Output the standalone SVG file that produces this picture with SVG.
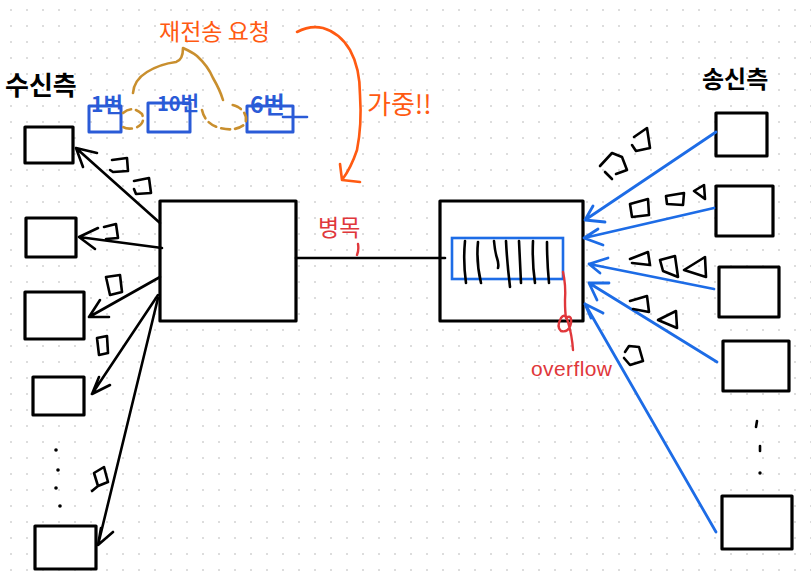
<svg xmlns="http://www.w3.org/2000/svg" width="811" height="578" viewBox="0 0 811 578">
<defs>
<pattern id="dots" x="3" y="2" width="16" height="16" patternUnits="userSpaceOnUse">
<circle cx="8" cy="8" r="1" fill="#d2d2d2"/>
</pattern>
<style>
.box{fill:#fff;stroke:#000;stroke-width:3.2;stroke-linejoin:round}
.bbox{fill:none;stroke:#2a5bd7;stroke-width:3;stroke-linejoin:round}
.blk{fill:none;stroke:#000;stroke-width:2.6;stroke-linecap:round;stroke-linejoin:round}
.blue{fill:none;stroke:#1d6ce6;stroke-width:2.8;stroke-linecap:round;stroke-linejoin:round}
.pk{fill:none;stroke:#000;stroke-width:2.6;stroke-linecap:round;stroke-linejoin:round}
.gold{fill:none;stroke:#c98f2e;stroke-width:2.6;stroke-linecap:round;stroke-linejoin:round}
.org{fill:none;stroke:#ff5a12;stroke-width:2.6;stroke-linecap:round;stroke-linejoin:round}
.red{fill:none;stroke:#e0373b;stroke-width:2.4;stroke-linecap:round;stroke-linejoin:round}
.kr{font-family:"Noto Sans CJK KR","Noto Sans",sans-serif}
.lat{font-family:"Liberation Sans",Arial,sans-serif}
</style>
</defs>
<rect width="811" height="578" fill="#fff"/>
<rect width="811" height="578" fill="url(#dots)"/>

<!-- labels -->
<text class="kr" x="5" y="95" font-size="26" font-weight="bold" fill="#000">수신측</text>
<text class="kr" x="702" y="88" font-size="24" font-weight="bold" fill="#000">송신측</text>
<text class="kr" x="159" y="40" font-size="23" fill="#ff5a12">재전송 요청</text>
<text class="kr" x="367" y="114" font-size="26" fill="#ff5a12">가중!!</text>
<text class="kr" x="318" y="236" font-size="23" fill="#e0373b">병목</text>
<text class="lat" x="451" y="235" font-size="22" fill="#000" textLength="62">buffer</text>
<text class="lat" x="531" y="376" font-size="21" fill="#e0373b" textLength="81">overflow</text>

<!-- receiver nodes -->
<g id="recv1"><rect class="box" x="25" y="127" width="48" height="36"/></g>
<g id="recv2"><rect class="box" x="26" y="218" width="50" height="39"/></g>
<g id="recv3"><rect class="box" x="25" y="292" width="59" height="47"/></g>
<g id="recv4"><rect class="box" x="33" y="377" width="51" height="38"/></g>
<g id="recv5"><rect class="box" x="35" y="526" width="61" height="43"/></g>
<g id="recv-dots" fill="#000">
<circle cx="56" cy="450" r="1.8"/><circle cx="58" cy="470" r="1.8"/><circle cx="56" cy="488" r="1.8"/><circle cx="60" cy="506" r="1.8"/>
</g>

<!-- router -->
<g id="router"><rect class="box" x="160" y="201" width="136" height="120"/></g>

<!-- buffer node -->
<g id="buffer">
<rect class="box" x="440" y="201" width="143" height="120"/>
<rect x="452" y="238" width="111" height="41" fill="none" stroke="#1d6ce6" stroke-width="2.6"/>
<path class="blk" d="M465,241 Q463,262 466,283 M478,242 Q476,262 481,283 M494,241 Q495,252 497,258 Q499,264 498,268 M506,241 Q507,262 510,287 M519,241 Q520,262 521,283 M533,241 Q532,262 535,283 M547,242 Q547,262 549,283"/>
</g>

<!-- sender nodes -->
<g id="send1"><rect class="box" x="716" y="113" width="51" height="43"/></g>
<g id="send2"><rect class="box" x="716" y="186" width="57" height="50"/></g>
<g id="send3"><rect class="box" x="719" y="267" width="60" height="50"/></g>
<g id="send4"><rect class="box" x="723" y="341" width="66" height="50"/></g>
<g id="send5"><rect class="box" x="722" y="496" width="70" height="53"/></g>
<g id="send-dots" fill="#000">
<path d="M757,421 L756,427" stroke="#000" stroke-width="2.6" stroke-linecap="round"/>
<path d="M760,446 L760,451" stroke="#000" stroke-width="2.6" stroke-linecap="round"/>
<circle cx="760" cy="473" r="1.7"/>
</g>

<!-- retransmission request packets (top) -->
<g id="pkt1">
<rect class="bbox" x="89" y="106" width="32" height="26"/>
<text class="kr" x="91" y="112" font-size="21" font-weight="bold" fill="#2a5bd7">1번</text>
</g>
<g id="pkt10">
<rect class="bbox" x="148" y="103" width="42" height="29"/>
<text class="kr" x="157" y="111" font-size="20" font-weight="bold" fill="#2a5bd7">10번</text>
</g>
<g id="pkt6">
<rect class="bbox" x="247" y="106" width="46" height="26"/>
<text class="kr" x="250" y="113" font-size="23" font-weight="bold" fill="#2a5bd7">6번</text>
<path d="M283,117 L307,117" stroke="#2a5bd7" stroke-width="2.6" stroke-linecap="round"/>
</g>

<!-- connectors -->
<g id="connectors">
<!-- router to receivers -->
<path class="blk" d="M160,223 L76,148 M97,153 L76,148 L83,167"/>
<path class="blk" d="M162,248 L79,237 M98,228 L79,237 L95,249"/>
<path class="blk" d="M160,277 L89,317 M100,300 L89,317 L109,317"/>
<path class="blk" d="M158,295 L92,394 M99,377 L92,394 L110,385"/>
<path class="blk" d="M158,298 L98,545 M101,528 L98,545 L113,532"/>
<!-- bottleneck link -->
<path class="blk" d="M296,258 L445,258"/>
<path class="red" d="M358,244 Q359,250 357,255"/>
<!-- senders to buffer -->
<path class="blue" d="M716,132 L585,220 M593,206 L585,220 L605,222"/>
<path class="blue" d="M714,208 L584,238 M598,229 L584,238 L603,245"/>
<path class="blue" d="M714,289 L589,264 M608,258 L589,264 L600,273"/>
<path class="blue" d="M717,362 L589,283 M609,283 L589,283 L597,300"/>
<path class="blue" d="M716,532 L585,304 M585,304 L603,313 M585,304 L591,318"/>
<!-- overflow -->
<path class="red" d="M563,272 Q566,285 565,300 Q565,312 566,318 Q572,314 571,323 Q569,333 561,331 Q556,327 561,318 Q565,312 568,322 Q572,335 573,350"/>
<!-- retransmission dashed links -->
<path class="gold" stroke-dasharray="9,5" d="M123,113 Q132,105 142,114 Q146,124 135,128 Q126,130 122,126"/>
<path class="gold" stroke-dasharray="9,5" d="M202,110 Q205,124 220,128 Q236,132 245,124 Q249,114 238,107 Q232,104 228,105"/>
<path class="gold" d="M133,93 Q134,80 147,72 Q160,64 176,62 Q183,60 183,48 Q192,52 197,56 Q208,66 213,78 Q220,90 223,100"/>
<!-- aggravation arrow -->
<path class="org" d="M297,32 Q310,25 323,28 Q340,33 350,50 Q360,68 360,95 Q362,125 357,150 Q351,168 342,180 M340,164 L342,180 L360,182"/>
</g>

<!-- data packets in flight -->
<g id="packets-left">
<path class="pk" d="M112,160 L127,158 L128,171 L113,172 L110,170"/>
<path class="pk" d="M134,181 L149,178 L151,193 L136,194 L134,189"/>
<path class="pk" d="M104,227 L116,224 L118,238 L106,239"/>
<path class="pk" d="M106,277 L120,275 L122,292 L110,295 Z"/>
<path class="pk" d="M97,338 L107,336 L108,353 L99,355 Z"/>
<path class="pk" d="M94,473 L104,467 L108,482 L98,486 Z M98,486 L92,491"/>
</g>
<g id="packets-right">
<path class="pk" d="M634,137 L647,128 L650,148 L636,151 L632,145"/>
<path class="pk" d="M600,166 L612,153 L622,157 L627,170 L616,174 M605,172 L612,179"/>
<path class="pk" d="M630,204 L648,199 L649,215 L632,217 Z"/>
<path class="pk" d="M666,196 L684,193 L683,205 L667,204 Z"/>
<path class="pk" d="M694,191 L704,185 L705,199 Z"/>
<path class="pk" d="M630,259 L648,252 L650,265 L632,263"/>
<path class="pk" d="M660,260 L675,256 L678,277 L663,271 Z"/>
<path class="pk" d="M684,270 L705,257 L706,277 Z"/>
<path class="pk" d="M630,301 L647,296 L649,312 L633,309"/>
<path class="pk" d="M658,320 L676,311 L677,328 Z"/>
<path class="pk" d="M625,352 L629,346 L639,347 L643,361 L630,365 L624,358"/>
</g>
</svg>
